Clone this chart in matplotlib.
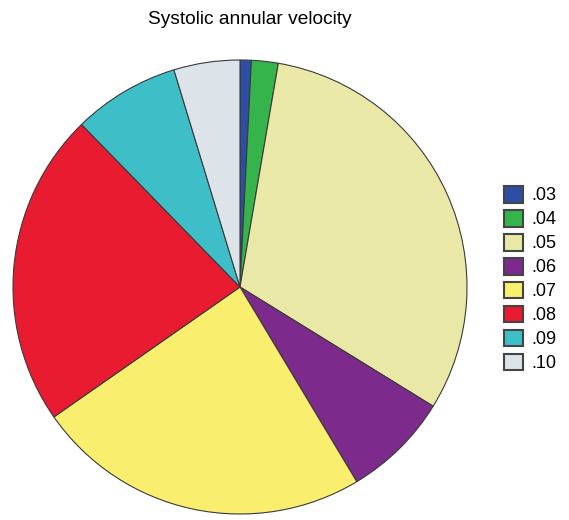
#!/usr/bin/env python3
"""Pie chart of systolic annular velocity categories."""

import matplotlib
matplotlib.use("Agg")
import matplotlib.pyplot as plt

labels = [".03", ".04", ".05", ".06", ".07", ".08", ".09", ".10"]
percent = [0.8, 1.9, 31.1, 7.6, 23.9, 22.4, 7.6, 4.7]
colors = ["#2e4ea6", "#36b44c", "#e9e8a6", "#7c2a8c", "#f9ee6e", "#e81b30", "#3ebfc8", "#dde4e9"]

plt.rcParams["font.family"] = ["Liberation Sans", "DejaVu Sans"]

W, H = 569, 520
fig = plt.figure(figsize=(W / 100, H / 100), dpi=100)

cx, cy, r = 240, 287, 227
ax = fig.add_axes([(cx - r) / W, (H - cy - r) / H, 2 * r / W, 2 * r / H])
wedges, _ = ax.pie(
    percent,
    colors=colors,
    startangle=90,
    counterclock=False,
    radius=1.0,
    wedgeprops={"edgecolor": "#3a3a3a", "linewidth": 0.8},
)
ax.set_xlim(-1.0, 1.0)
ax.set_ylim(-1.0, 1.0)

fig.text(250 / W, 1 - 20 / H, "Systolic annular velocity", ha="center", va="center", fontsize=13.8)

leg = fig.legend(
    wedges,
    labels,
    loc="center left",
    bbox_to_anchor=(504 / W, 1 - 279 / H),
    frameon=False,
    fontsize=13,
    handlelength=1.05,
    handleheight=1.05,
    handletextpad=0.45,
    labelspacing=0.3,
    borderpad=0,
    borderaxespad=0,
)
for h in leg.legend_handles:
    h.set_edgecolor("#444444")
    h.set_linewidth(1.5)

fig.savefig("out.png", dpi=100)
